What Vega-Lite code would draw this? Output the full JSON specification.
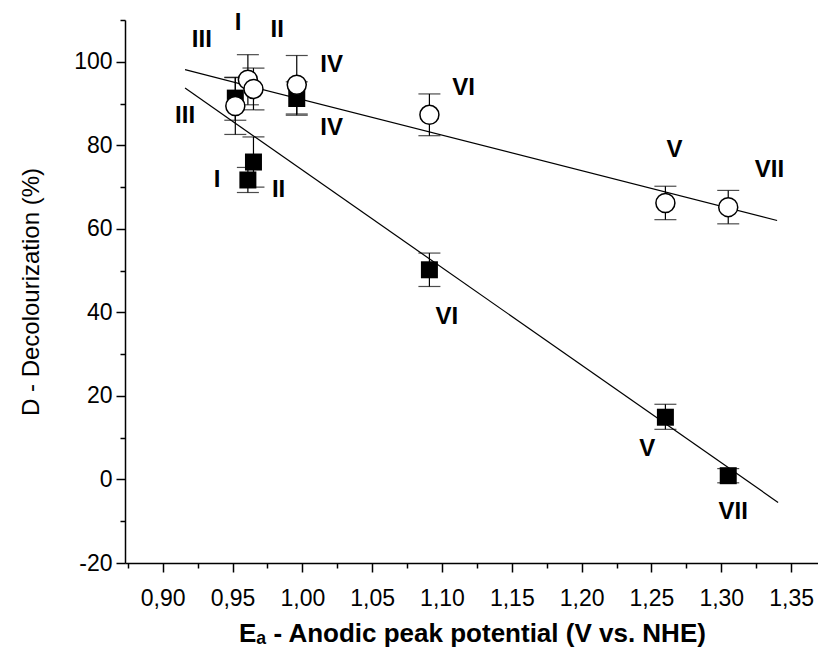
{
  "$schema": "https://vega.github.io/schema/vega-lite/v6.json",
  "width": 694,
  "height": 543,
  "autosize": "none",
  "padding": {"left": 125, "top": 20, "right": 0, "bottom": 92},
  "background": "white",
  "config": {
    "view": {"stroke": null},
    "font": "Liberation Sans",
    "axis": {
      "domainColor": "black",
      "domainWidth": 1.5,
      "tickColor": "black",
      "tickWidth": 1.5,
      "labelColor": "black",
      "titleColor": "black",
      "labelFont": "Liberation Sans",
      "titleFont": "Liberation Sans",
      "labelFontSize": 23,
      "titleFontSize": 24,
      "grid": false
    }
  },
  "datasets": {
    "points": [
      {"series": "open", "label": "I", "E": 0.961, "D": 95.7, "lo": 89.7, "hi": 101.7},
      {"series": "open", "label": "II", "E": 0.965, "D": 93.5, "lo": 88.5, "hi": 98.5},
      {"series": "open", "label": "III", "E": 0.952, "D": 89.4, "lo": 82.6, "hi": 96.2},
      {"series": "open", "label": "IV", "E": 0.996, "D": 94.5, "lo": 87.5, "hi": 101.5},
      {"series": "open", "label": "VI", "E": 1.091, "D": 87.3, "lo": 82.3, "hi": 92.3},
      {"series": "open", "label": "V", "E": 1.26, "D": 66.2, "lo": 62.2, "hi": 70.2},
      {"series": "open", "label": "VII", "E": 1.305, "D": 65.2, "lo": 61.2, "hi": 69.2},
      {"series": "filled", "label": "I", "E": 0.961, "D": 71.7, "lo": 68.7, "hi": 74.7},
      {"series": "filled", "label": "II", "E": 0.965, "D": 76.0, "lo": 70.0, "hi": 82.0},
      {"series": "filled", "label": "III", "E": 0.952, "D": 91.3, "lo": 86.0, "hi": 96.3},
      {"series": "filled", "label": "IV", "E": 0.996, "D": 91.2, "lo": 87.2, "hi": 95.2},
      {"series": "filled", "label": "VI", "E": 1.091, "D": 50.2, "lo": 46.2, "hi": 54.2},
      {"series": "filled", "label": "V", "E": 1.26, "D": 14.9, "lo": 12.0, "hi": 18.0},
      {"series": "filled", "label": "VII", "E": 1.305, "D": 0.9, "lo": -0.8, "hi": 2.6}
    ],
    "fits": [
      {"series": "open", "E": 0.916, "D": 98.1},
      {"series": "open", "E": 1.34, "D": 62.0},
      {"series": "filled", "E": 0.916, "D": 93.7},
      {"series": "filled", "E": 1.3407, "D": -5.5}
    ],
    "labels": [
      {"text": "I", "E": 0.954, "D": 109.3},
      {"text": "II", "E": 0.982, "D": 107.7},
      {"text": "III", "E": 0.928, "D": 105.3},
      {"text": "IV", "E": 1.021, "D": 99.3},
      {"text": "III", "E": 0.916, "D": 86.9},
      {"text": "IV", "E": 1.021, "D": 84.1},
      {"text": "I", "E": 0.939, "D": 71.7},
      {"text": "II", "E": 0.983, "D": 69.3},
      {"text": "VI", "E": 1.1155, "D": 93.7},
      {"text": "VI", "E": 1.1035, "D": 39.0},
      {"text": "V", "E": 1.2666, "D": 78.9},
      {"text": "VII", "E": 1.3345, "D": 74.1},
      {"text": "V", "E": 1.247, "D": 7.3},
      {"text": "VII", "E": 1.3085, "D": -7.9}
    ]
  },
  "encoding": {
    "x": {
      "field": "E", "type": "quantitative",
      "scale": {"domain": [0.873, 1.37], "nice": false, "zero": false},
      "axis": {
        "title": "Eₐ - Anodic peak potential (V vs. NHE)",
        "titleFontWeight": "bold",
        "titleFontSize": 26,
        "titlePadding": 10,
        "values": [0.875, 0.9, 0.925, 0.95, 0.975, 1.0, 1.025, 1.05, 1.075, 1.1, 1.125, 1.15, 1.175, 1.2, 1.225, 1.25, 1.275, 1.3, 1.325, 1.35],
        "labelExpr": "round(datum.value*1000) % 50 == 0 ? replace(format(datum.value, '.2f'), '.', ',') : ''",
        "tickSize": {"condition": {"test": "round(datum.value*1000) % 50 == 0", "value": 9}, "value": 5},
        "labelPadding": 15,
        "labelFlush": false,
        "labelOverlap": false
      }
    },
    "y": {
      "field": "D", "type": "quantitative",
      "scale": {"domain": [-20, 110], "nice": false, "zero": false},
      "axis": {
        "title": "D - Decolourization (%)",
        "titleFontWeight": "normal",
        "titlePadding": 30,
        "values": [-20, -10, 0, 10, 20, 30, 40, 50, 60, 70, 80, 90, 100, 110],
        "labelExpr": "datum.value % 20 == 0 ? ('' + datum.value) : ''",
        "tickSize": {"condition": {"test": "datum.value % 20 == 0", "value": 9}, "value": 5},
        "labelPadding": 4,
        "labelFlush": false,
        "labelOverlap": false
      }
    }
  },
  "layer": [
    {
      "data": {"name": "fits"},
      "mark": {"type": "line", "color": "black", "strokeWidth": 1.2},
      "encoding": {"detail": {"field": "series"}}
    },
    {
      "data": {"name": "points"},
      "mark": {"type": "rule", "color": "black", "strokeWidth": 1.2},
      "encoding": {"y": {"field": "lo", "type": "quantitative"}, "y2": {"field": "hi"}}
    },
    {
      "data": {"name": "points"},
      "mark": {"type": "tick", "orient": "horizontal", "color": "black", "size": 22, "thickness": 1.2},
      "encoding": {"y": {"field": "lo", "type": "quantitative"}}
    },
    {
      "data": {"name": "points"},
      "mark": {"type": "tick", "orient": "horizontal", "color": "black", "size": 22, "thickness": 1.2},
      "encoding": {"y": {"field": "hi", "type": "quantitative"}}
    },
    {
      "data": {"name": "points"},
      "transform": [{"filter": "datum.series == 'filled'"}],
      "mark": {"type": "point", "shape": "square", "filled": true, "color": "black", "size": 289, "opacity": 1}
    },
    {
      "data": {"name": "points"},
      "transform": [{"filter": "datum.series == 'open'"}],
      "mark": {"type": "point", "shape": "circle", "fill": "white", "stroke": "black", "strokeWidth": 1.5, "size": 361, "opacity": 1, "fillOpacity": 1}
    },
    {
      "data": {"name": "labels"},
      "mark": {"type": "text", "font": "Liberation Sans", "fontWeight": "bold", "fontSize": 24, "color": "black", "align": "center", "baseline": "middle"},
      "encoding": {"text": {"field": "text"}}
    }
  ]
}
